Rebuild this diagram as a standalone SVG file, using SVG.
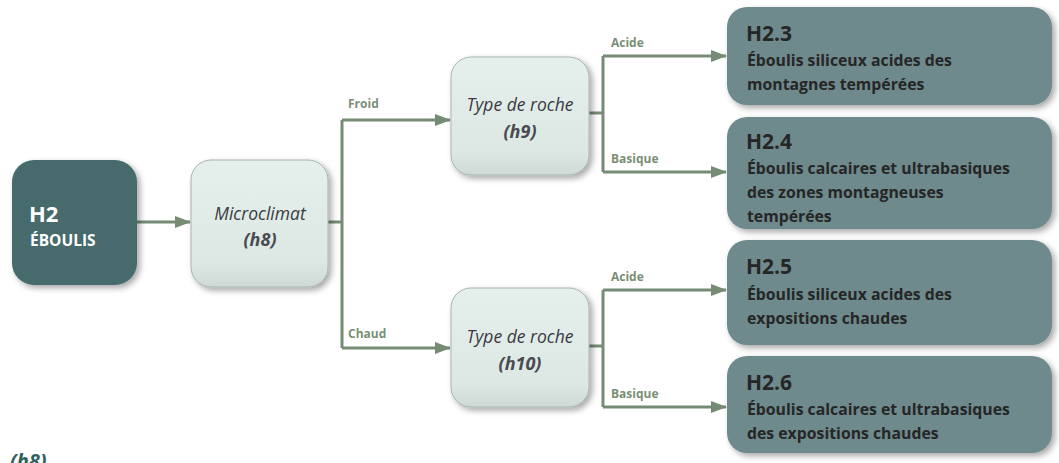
<svg xmlns="http://www.w3.org/2000/svg" width="1059" height="463" viewBox="0 0 1059 463">
<style>
.lbl{font-family:"Open Sans","Liberation Sans",sans-serif;font-weight:bold;font-size:12px;fill:#7a8f76}
.q{font-family:"Open Sans","Liberation Sans",sans-serif;font-style:italic;font-size:17.5px;fill:#3a3a42;text-anchor:middle}
.qb{font-family:"Open Sans","Liberation Sans",sans-serif;font-style:italic;font-weight:bold;font-size:18px;fill:#4a4a52;text-anchor:middle}
.rt{font-family:"Open Sans","Liberation Sans",sans-serif;font-weight:bold;font-size:21px;fill:#262626}
.rs{font-family:"Open Sans","Liberation Sans",sans-serif;font-weight:bold;font-size:15.8px;fill:#262626}
.res{fill:#6e8a8c}
.qn{fill:url(#qg);stroke:#a9b3b0;stroke-width:1}
.con{fill:none;stroke:#768b74;stroke-width:3}
</style>
<defs>
<linearGradient id="qg" x1="0" y1="0" x2="0" y2="1">
<stop offset="0" stop-color="#e5f0ec"/>
<stop offset="0.8" stop-color="#dde8e4"/>
<stop offset="1" stop-color="#cfdad6"/>
</linearGradient>
<filter id="sh" x="-10%" y="-10%" width="130%" height="130%">
<feGaussianBlur in="SourceAlpha" stdDeviation="3"/>
<feOffset dx="3" dy="3"/>
<feComponentTransfer><feFuncA type="linear" slope="0.35"/></feComponentTransfer>
<feMerge><feMergeNode/><feMergeNode in="SourceGraphic"/></feMerge>
</filter>
<marker id="ah" markerWidth="16" markerHeight="12" refX="15" refY="6" orient="auto" markerUnits="userSpaceOnUse">
<path d="M0,0 L16,6 L0,12 Z" fill="#768b74"/>
</marker>
</defs>

<g id="connectors">
<path class="con" d="M137,222 H190" marker-end="url(#ah)"/>
<path class="con" d="M328,222 H342"/>
<path class="con" d="M342,120 V348"/>
<path class="con" d="M342,120 H450" marker-end="url(#ah)"/>
<path class="con" d="M342,348 H450" marker-end="url(#ah)"/>
<path class="con" d="M589,113 H603"/>
<path class="con" d="M603,56 V172"/>
<path class="con" d="M603,56 H726" marker-end="url(#ah)"/>
<path class="con" d="M603,172 H726" marker-end="url(#ah)"/>
<path class="con" d="M589,346 H603"/>
<path class="con" d="M603,290 V407"/>
<path class="con" d="M603,290 H726" marker-end="url(#ah)"/>
<path class="con" d="M603,407 H726" marker-end="url(#ah)"/>
<text class="lbl" x="348" y="108">Froid</text>
<text class="lbl" x="348" y="338">Chaud</text>
<text class="lbl" x="611" y="47">Acide</text>
<text class="lbl" x="611" y="163">Basique</text>
<text class="lbl" x="611" y="281">Acide</text>
<text class="lbl" x="611" y="398">Basique</text>
</g>

<g id="h2">
<rect x="12" y="160" width="125" height="125" rx="22" fill="#466b6c" filter="url(#sh)"/>
<text x="29" y="222" style="font-family:'Open Sans','Liberation Sans',sans-serif;font-weight:bold;font-size:22px;fill:#ffffff">H2</text>
<text x="30" y="246" style="font-family:'Open Sans','Liberation Sans',sans-serif;font-weight:bold;font-size:15.5px;fill:#ffffff">ÉBOULIS</text>
</g>

<g id="h8">
<rect class="qn" x="191" y="160" width="137" height="127" rx="20" filter="url(#sh)"/>
<text class="q" x="260" y="220">Microclimat</text>
<text class="qb" x="260" y="246">(h8)</text>
</g>

<g id="h9">
<rect class="qn" x="451" y="57" width="138" height="118" rx="20" filter="url(#sh)"/>
<text class="q" x="520" y="111">Type de roche</text>
<text class="qb" x="520" y="138">(h9)</text>
</g>

<g id="h10">
<rect class="qn" x="451" y="288" width="138" height="119" rx="20" filter="url(#sh)"/>
<text class="q" x="520" y="343">Type de roche</text>
<text class="qb" x="520" y="370">(h10)</text>
</g>

<g id="h2-3">
<rect class="res" x="727" y="7" width="325" height="98" rx="20" filter="url(#sh)"/>
<text class="rt" x="746" y="41">H2.3</text>
<text class="rs" x="747" y="66">Éboulis siliceux acides des</text>
<text class="rs" x="747" y="90">montagnes tempérées</text>
</g>

<g id="h2-4">
<rect class="res" x="727" y="117" width="325" height="112" rx="20" filter="url(#sh)"/>
<text class="rt" x="746" y="149">H2.4</text>
<text class="rs" x="747" y="174">Éboulis calcaires et ultrabasiques</text>
<text class="rs" x="747" y="198">des zones montagneuses</text>
<text class="rs" x="747" y="222">tempérées</text>
</g>

<g id="h2-5">
<rect class="res" x="727" y="240" width="325" height="105" rx="20" filter="url(#sh)"/>
<text class="rt" x="746" y="274">H2.5</text>
<text class="rs" x="747" y="300">Éboulis siliceux acides des</text>
<text class="rs" x="747" y="324">expositions chaudes</text>
</g>

<g id="h2-6">
<rect class="res" x="727" y="356" width="325" height="97" rx="20" filter="url(#sh)"/>
<text class="rt" x="746" y="390">H2.6</text>
<text class="rs" x="747" y="415">Éboulis calcaires et ultrabasiques</text>
<text class="rs" x="747" y="439">des expositions chaudes</text>
</g>

<text x="10" y="468" style="font-family:'Open Sans','Liberation Sans',sans-serif;font-style:italic;font-weight:bold;font-size:20px;fill:#2f5f60">(h8)</text>
</svg>
